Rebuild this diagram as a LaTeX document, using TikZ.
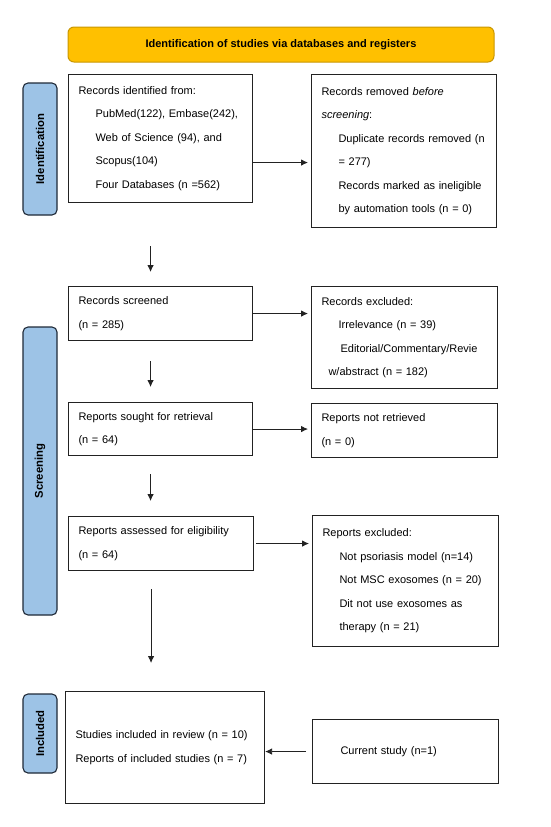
\documentclass[tikz,border=0pt]{standalone}
\usepackage{fontspec}
\setmainfont{Liberation Sans}
\usetikzlibrary{arrows.meta}
\definecolor{gold}{HTML}{FFC000}
\definecolor{goldedge}{HTML}{C99700}
\definecolor{sideblue}{HTML}{9DC3E6}
\definecolor{sideedge}{HTML}{1F2937}
\definecolor{linecol}{HTML}{222222}
\newcommand\indline[2]{\mbox{\hspace*{#1}#2}}
\begin{document}
\begin{tikzpicture}[x=1pt,y=-1pt,
  box/.style={draw=linecol, line width=1.1pt, anchor=north west, align=left,
    inner xsep=10pt, inner ysep=0pt, font=\fontsize{11}{23.5}\selectfont},
  side/.style={draw=sideedge, line width=1.1pt, fill=sideblue, rounded corners=5pt,
    rotate=90, minimum height=34pt, inner sep=0pt,
    font=\fontsize{11.3}{13}\selectfont\bfseries},
  arr/.style={draw=linecol, line width=0.8pt, -{Latex[length=7pt,width=6.5pt]}}]
\useasboundingbox (0,0) rectangle (550,827);

% banner
\node[fill=gold, draw=goldedge, line width=1pt, rounded corners=6pt,
  minimum width=426pt, minimum height=35pt, inner sep=0pt,
  font=\fontsize{11}{13}\selectfont\bfseries] (ban) at (281,44.5)
  {Identification of studies via databases and registers};

% side labels
\node[side, minimum width=132pt] (sid) at (40,149) {Identification};
\node[side, minimum width=288pt] (ssc) at (40,471) {Screening};
\node[side, minimum width=79pt] (sin) at (40,733.5) {Included};

% identification
\node[box, text width=164pt, minimum height=128pt] (b1) at (68,74)
  {\mbox{Records identified from:}\\
   \indline{17pt}{PubMed(122), Embase(242),}\\
   \indline{17pt}{Web of Science (94), and}\\
   \indline{17pt}{Scopus(104)}\\
   \indline{17pt}{Four Databases (n =562)}};
\node[box, text width=165pt, minimum height=153pt] (b2) at (311,74)
  {\mbox{Records removed \textit{before}}\\
   \mbox{\textit{screening}:}\\
   \indline{17pt}{Duplicate records removed (n}\\
   \indline{17pt}{= 277)}\\
   \indline{17pt}{Records marked as ineligible}\\
   \indline{17pt}{by automation tools (n = 0)}};

% screening
\node[box, text width=164pt, minimum height=54pt] (rs) at (68,286)
  {\mbox{Records screened}\\ \mbox{(n = 285)}};
\node[box, text width=166pt, minimum height=102pt] (ex) at (311,286)
  {\mbox{Records excluded:}\\
   \indline{17pt}{Irrelevance (n = 39)}\\
   \indline{19pt}{Editorial/Commentary/Revie}\\
   \indline{7pt}{w/abstract (n = 182)}};
\node[box, text width=164pt, minimum height=53pt] (so) at (68,402)
  {\mbox{Reports sought for retrieval}\\ \mbox{(n = 64)}};
\node[box, text width=166pt, minimum height=54pt] (nr) at (311,403)
  {\mbox{Reports not retrieved}\\ \mbox{(n = 0)}};
\node[box, text width=165pt, minimum height=54pt] (as) at (68,516)
  {\mbox{Reports assessed for eligibility}\\ \mbox{(n = 64)}};
\node[box, text width=166pt, minimum height=131pt] (re) at (312,515)
  {\mbox{Reports excluded:}\\
   \indline{17pt}{Not psoriasis model (n=14)}\\
   \indline{17pt}{Not MSC exosomes (n = 20)}\\
   \indline{17pt}{Dit not use exosomes as}\\
   \indline{17pt}{therapy (n = 21)}};

% included
\node[box, text width=179pt, minimum height=112pt] (inc) at (65,691)
  {\mbox{Studies included in review (n = 10)}\\
   \mbox{Reports of included studies (n = 7)}};
\node[box, text width=166pt, minimum height=64pt] (cur) at (312,719)
  {\indline{18pt}{Current study (n=1)}};

% horizontal arrows
\draw[arr, shorten >=3pt] ([yshift=-24pt]b1.east) -- ([yshift=-24pt]b1.east -| b2.west);
\draw[arr, shorten >=3pt] (rs.east) -- (rs.east -| ex.west);
\draw[arr, shorten >=3pt] (so.east) -- (so.east -| nr.west);
\draw[arr, shorten <=2pt, shorten >=3pt] (as.east) -- (as.east -| re.west);
\draw[arr, shorten <=6pt] (cur.west) -- (cur.west -| inc.east);

% vertical arrows
\draw[arr, shorten <=43pt, shorten >=14pt] ([xshift=-10pt]b1.south) -- ([xshift=-10pt]b1.south |- rs.north);
\draw[arr, shorten <=20pt, shorten >=15pt] ([xshift=-10pt]rs.south) -- ([xshift=-10pt]rs.south |- so.north);
\draw[arr, shorten <=18pt, shorten >=15pt] ([xshift=-10pt]so.south) -- ([xshift=-10pt]so.south |- as.north);
\draw[arr, shorten <=18pt, shorten >=28pt] ([xshift=-10pt]as.south) -- ([xshift=-10pt]as.south |- inc.north);
\end{tikzpicture}
\end{document}
